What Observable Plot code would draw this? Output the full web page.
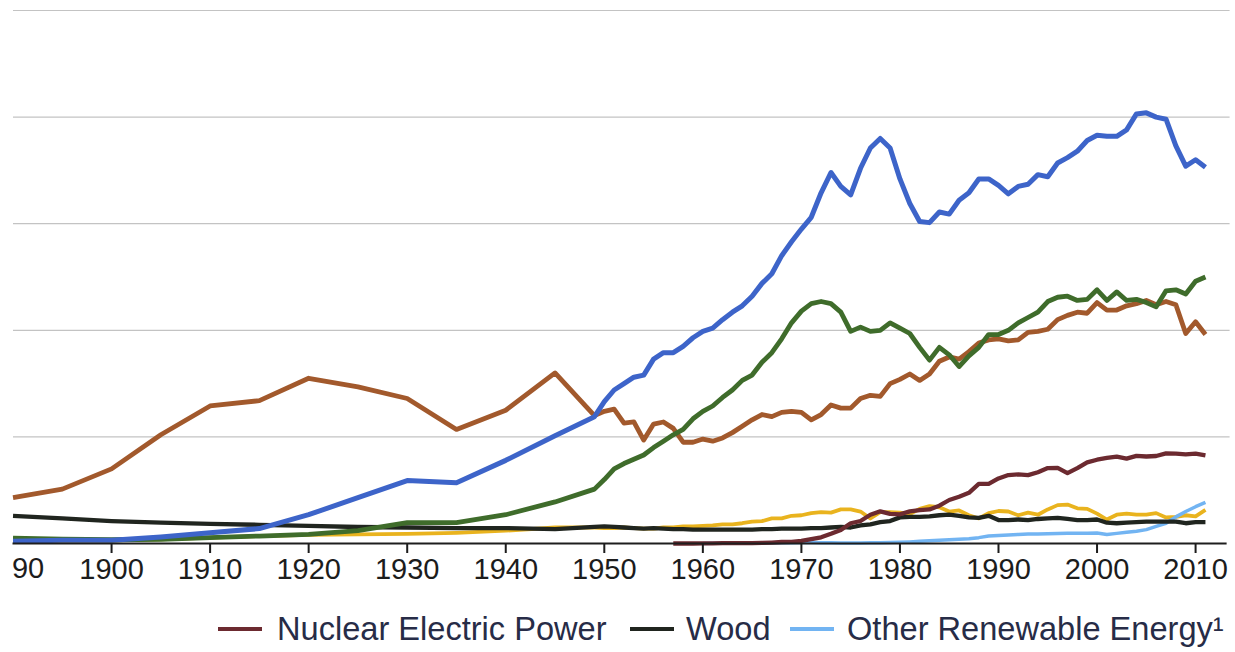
<!DOCTYPE html>
<html>
<head>
<meta charset="utf-8">
<script src="https://cdn.jsdelivr.net/npm/d3@7"></script>
<script src="https://cdn.jsdelivr.net/npm/@observablehq/plot@0.6"></script>
<style>
  html, body { margin: 0; padding: 0; background: #fff; }
  #wrap { position: relative; width: 1235px; height: 652px; overflow: hidden; }
  #legend { position: absolute; left: 0; top: 0; width: 1235px; height: 652px; pointer-events: none;
    font-family: "Liberation Sans", Arial, sans-serif; font-size: 32.6px; color: #272c47; }
  .sw { position: absolute; height: 4px; top: 627px; }
  .lb { position: absolute; top: 611px; line-height: 36px; white-space: nowrap; }
</style>
</head>
<body>
<div id="wrap">
  <div id="chart"></div>
  <div id="legend"></div>
</div>
<script>
const years = [1890,1895,1900,1905,1910,1915,1920,1925,1930,1935,1940,1945,
  1949,
  1950,1951,1952,1953,1954,1955,1956,1957,1958,1959,
  1960,1961,1962,1963,1964,1965,1966,1967,1968,1969,
  1970,1971,1972,1973,1974,1975,1976,1977,1978,1979,
  1980,1981,1982,1983,1984,1985,1986,1987,1988,1989,
  1990,1991,1992,1993,1994,1995,1996,1997,1998,1999,
  2000,2001,2002,2003,2004,2005,2006,2007,2008,2009,
  2010,2011];

const petroleum = [0.2,0.3,0.3,0.6,1.0,1.4,2.7,4.3,5.9,5.7,7.8,10.1,
  11.9,
  13.3,14.4,15.0,15.6,15.8,17.3,17.9,17.9,18.5,19.3,
  19.9,20.2,21.0,21.7,22.3,23.2,24.4,25.3,27.0,28.3,
  29.5,30.6,32.9,34.8,33.5,32.7,35.2,37.1,38.0,37.1,
  34.2,31.9,30.2,30.1,31.1,30.9,32.2,32.9,34.2,34.2,
  33.6,32.8,33.5,33.7,34.6,34.4,35.7,36.2,36.8,37.8,
  38.3,38.2,38.2,38.8,40.3,40.4,40.0,39.8,37.3,35.4,
  36.0,35.3];

const naturalGas = [0.5,0.4,0.35,0.4,0.55,0.7,0.85,1.2,1.95,1.95,2.7,3.9,
  5.1,
  6.0,7.0,7.5,7.9,8.3,9.0,9.6,10.2,10.7,11.7,
  12.4,12.9,13.7,14.4,15.3,15.8,17.0,17.9,19.2,20.7,
  21.8,22.5,22.7,22.5,21.7,19.9,20.3,19.9,20.0,20.7,
  20.2,19.7,18.4,17.2,18.4,17.7,16.6,17.6,18.4,19.6,
  19.6,20.0,20.7,21.2,21.7,22.7,23.1,23.2,22.8,22.9,
  23.8,22.8,23.6,22.8,22.9,22.6,22.2,23.7,23.8,23.4,
  24.6,25.0];

const coal = [4.3,5.1,7.0,10.2,12.9,13.4,15.5,14.7,13.6,10.7,12.5,16.0,
  12.0,
  12.4,12.6,11.3,11.4,9.7,11.2,11.4,10.8,9.5,9.5,
  9.8,9.6,9.9,10.4,11.0,11.6,12.1,11.9,12.3,12.4,
  12.3,11.6,12.1,13.0,12.7,12.7,13.6,13.9,13.8,15.0,
  15.4,15.9,15.3,15.9,17.1,17.5,17.3,18.0,18.8,19.1,
  19.2,19.0,19.1,19.8,19.9,20.1,21.0,21.4,21.7,21.6,
  22.6,21.9,21.9,22.3,22.5,22.8,22.4,22.7,22.4,19.7,
  20.8,19.6];

const nuclear = [null,null,null,null,null,null,null,null,null,null,null,null,
  null,
  null,null,null,null,null,null,null,0,0,0,
  0.01,0.02,0.03,0.04,0.04,0.04,0.06,0.09,0.14,0.15,
  0.24,0.41,0.58,0.91,1.27,1.90,2.11,2.70,3.02,2.78,
  2.74,3.01,3.13,3.20,3.55,4.08,4.38,4.75,5.59,5.60,
  6.10,6.42,6.48,6.41,6.69,7.08,7.09,6.60,7.07,7.61,
  7.86,8.03,8.14,7.96,8.22,8.16,8.21,8.46,8.43,8.36,
  8.43,8.26];

const hydro = [0.2,0.25,0.3,0.4,0.55,0.7,0.8,0.85,0.9,1.0,1.2,1.5,
  1.5,
  1.45,1.45,1.5,1.45,1.4,1.4,1.5,1.5,1.6,1.6,
  1.65,1.7,1.8,1.8,1.9,2.05,2.1,2.35,2.35,2.6,
  2.65,2.85,2.95,2.9,3.2,3.2,3.0,2.35,2.95,2.95,
  2.9,2.75,3.25,3.5,3.4,3.0,3.1,2.65,2.35,2.85,
  3.05,3.0,2.65,2.9,2.7,3.2,3.6,3.65,3.3,3.25,
  2.8,2.25,2.7,2.8,2.7,2.7,2.85,2.45,2.5,2.65,
  2.55,3.15];

const wood = [2.6,2.35,2.1,1.95,1.85,1.75,1.65,1.55,1.5,1.45,1.45,1.35,
  1.55,
  1.6,1.55,1.5,1.45,1.4,1.45,1.4,1.35,1.35,1.3,
  1.3,1.3,1.3,1.3,1.3,1.3,1.35,1.35,1.4,1.4,
  1.4,1.45,1.45,1.5,1.55,1.5,1.7,1.8,2.0,2.1,
  2.45,2.5,2.5,2.55,2.65,2.7,2.6,2.45,2.4,2.6,
  2.2,2.2,2.25,2.2,2.3,2.35,2.4,2.3,2.2,2.2,
  2.25,1.95,1.9,1.95,2.0,2.05,2.05,2.05,2.05,1.9,
  2.0,2.0];

const otherRenewable = [null,null,null,null,null,null,null,null,null,null,null,null,
  null,
  null,null,null,null,null,null,null,null,null,null,
  0.01,0.02,0.03,0.03,0.04,0.05,0.05,0.06,0.07,0.08,
  0.1,0.1,0.08,0.06,0.05,0.05,0.05,0.06,0.08,0.1,
  0.12,0.15,0.2,0.25,0.3,0.35,0.4,0.45,0.55,0.7,
  0.75,0.8,0.85,0.88,0.9,0.92,0.93,0.95,0.95,0.97,
  0.98,0.85,0.95,1.05,1.15,1.3,1.6,1.9,2.5,3.0,
  3.45,3.85];

const tickYears = [1900,1910,1920,1930,1940,1950,1960,1970,1980,1990,2000,2010];
const firstTickYear = [1890];
const firstTickLabel = "90";
const gridValues = [10,20,30,40,50];
const legendNames = ["Nuclear Electric Power", "Wood", "Other Renewable Energy\u00b9"];

function rows(values) {
  const out = [];
  values.forEach((v, i) => { if (v !== null) out.push({year: years[i], value: v}); });
  return out;
}

const series = [
  {data: rows(hydro), color: "#e9b31e", width: 3.8},
  {data: rows(otherRenewable), color: "#72b4f2", width: 3.5},
  {data: rows(wood), color: "#20251f", width: 4.3},
  {data: rows(nuclear), color: "#6c2a30", width: 4.3},
  {data: rows(coal), color: "#a2592c", width: 4.8},
  {data: rows(naturalGas), color: "#3f6c2b", width: 4.8},
  {data: rows(petroleum), color: "#3d64c9", width: 5}
];

const chart = Plot.plot({
  width: 1235,
  height: 600,
  marginLeft: 0,
  marginRight: 0,
  marginTop: 10,
  marginBottom: 57,
  style: {fontFamily: "Liberation Sans, Arial, sans-serif", fontSize: "29px", color: "#1c1c1c", background: "white", overflow: "visible"},
  x: {domain: [1888.73, 2014.05], label: null},
  y: {domain: [0, 50], axis: null},
  marks: [
    Plot.ruleY(gridValues, {y: d => d, x1: 1890.05, x2: 2013.5, stroke: "#c3c3c3", strokeWidth: 1.2}),
    ...series.map(s => Plot.line(s.data, {x: "year", y: "value", stroke: s.color, strokeWidth: s.width, strokeLinejoin: "round", strokeLinecap: "butt"})),
    Plot.ruleY([0], {x1: 1890, x2: 2013.2, stroke: "#1e1e1e", strokeWidth: 2}),
    Plot.axisX({ticks: tickYears, tickSize: 10, tickPadding: 5, tickFormat: d => String(d), strokeWidth: 2, fontSize: 29, label: null}),
    Plot.text(firstTickYear, {x: d => d, y: 0, text: () => firstTickLabel, dx: 15, dy: 25, fontSize: 29, fill: "#1c1c1c", lineAnchor: "middle"})
  ]
});
document.getElementById("chart").appendChild(chart);

const legendColors = ["#6c2a30", "#20251f", "#72b4f2"];
const swatchX = [218, 630, 790];
const labelX = [277, 686, 847];
const legend = document.getElementById("legend");
legendNames.forEach((name, i) => {
  const sw = document.createElement("div");
  sw.className = "sw";
  sw.style.left = swatchX[i] + "px";
  sw.style.width = "44px";
  sw.style.background = legendColors[i];
  legend.appendChild(sw);
  const lb = document.createElement("div");
  lb.className = "lb";
  lb.style.left = labelX[i] + "px";
  lb.textContent = name;
  legend.appendChild(lb);
});
</script>
</body>
</html>
